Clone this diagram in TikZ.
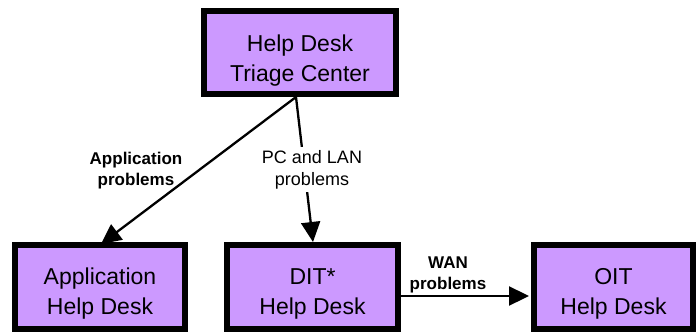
\documentclass[tikz,border=0pt]{standalone}
\usepackage{fontspec}
\setmainfont{Liberation Sans}
\usetikzlibrary{arrows.meta}
\definecolor{boxfill}{HTML}{CC99FF}
\tikzset{
  deskbox/.style={draw=black, line width=6pt, fill=boxfill, inner sep=0pt, outer sep=3pt},
  desktext/.style={align=center, inner sep=0pt, font=\fontsize{23}{30}\selectfont},
  boldlabel/.style={align=center, inner sep=0pt, font=\fontsize{17}{21}\selectfont\bfseries},
  plainlabel/.style={align=center, inner sep=3pt, fill=white, font=\fontsize{18}{22}\selectfont},
  flow/.style={draw=black, line width=2.3pt, -{Triangle[length=20pt,width=19pt]}}
}
\begin{document}
\begin{tikzpicture}[x=1pt,y=-1pt]
\useasboundingbox (0,0) rectangle (696,332);
% boxes
\node[deskbox, minimum width=192pt, minimum height=83pt] (top) at (300,52.5) {};
\node[deskbox, minimum width=170pt, minimum height=84pt] (app) at (100,287) {};
\node[deskbox, minimum width=171pt, minimum height=84pt] (dit) at (312.5,287) {};
\node[deskbox, minimum width=159pt, minimum height=84pt] (oit) at (613.5,287) {};
% box texts
\node[desktext] (topT) at (300,61) {Help Desk\\Triage Center};
\node[desktext] (appT) at (100,294) {Application\\Help Desk};
\node[desktext] (ditT) at (312.5,294) {DIT*\\Help Desk};
\node[desktext] (oitT) at (613.5,294) {OIT\\Help Desk};
% connectors
\coordinate (src) at ([xshift=-4pt]top.south);
\draw[flow] (src) -- ([xshift=1pt,yshift=-2pt]app.north);
\draw[flow] (src) -- ([xshift=0.5pt]dit.north);
\draw[flow] ([yshift=-9pt]dit.east) -- ([xshift=-2pt,yshift=-9pt]oit.west);
% labels
\node[boldlabel] (lapp) at (136,170.6) {Application\\problems};
\node[plainlabel] (lpc) at (312,169.4) {PC and LAN\\problems};
\node[boldlabel] (lwan) at (448,274.7) {WAN\\problems};
\end{tikzpicture}
\end{document}
